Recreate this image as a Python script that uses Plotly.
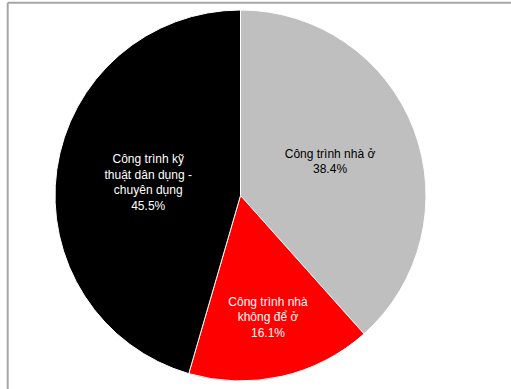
import plotly.graph_objects as go

labels = ["Công trình nhà ở", "Công trình nhà<br>không để ở", "Công trình kỹ<br>thuật dân dụng -<br>chuyên dụng"]
values = [38.4, 16.1, 45.5]
colors = ["#BFBFBF", "#FF0000", "#000000"]
text_colors = ["#000000", "#FFFFFF", "#FFFFFF"]

fig = go.Figure(go.Pie(
    labels=labels,
    values=values,
    sort=False,
    direction="clockwise",
    rotation=0,
    marker=dict(colors=colors, line=dict(color="#FFFFFF", width=1)),
    textinfo="label+percent",
    texttemplate="%{label}<br>%{percent:.1%}",
    textposition="inside",
    insidetextorientation="horizontal",
    textfont=dict(family="Liberation Sans, Arial, sans-serif", size=12, color=text_colors),
    hoverinfo="label+percent",
    showlegend=False,
))

fig.update_layout(
    width=511, height=389,
    margin=dict(l=55, r=85, t=10, b=8),
    paper_bgcolor="#FFFFFF",
    plot_bgcolor="#FFFFFF",
    shapes=[
        dict(type="line", xref="paper", yref="paper", x0=-0.1275, x1=1.3, y0=1.0195, y1=1.0195,
             line=dict(color="#A6A6A6", width=2)),
        dict(type="line", xref="paper", yref="paper", x0=-0.1275, x1=-0.1275, y0=-0.1, y1=1.0195,
             line=dict(color="#A6A6A6", width=2)),
    ],
)

fig.write_html("out.html")
